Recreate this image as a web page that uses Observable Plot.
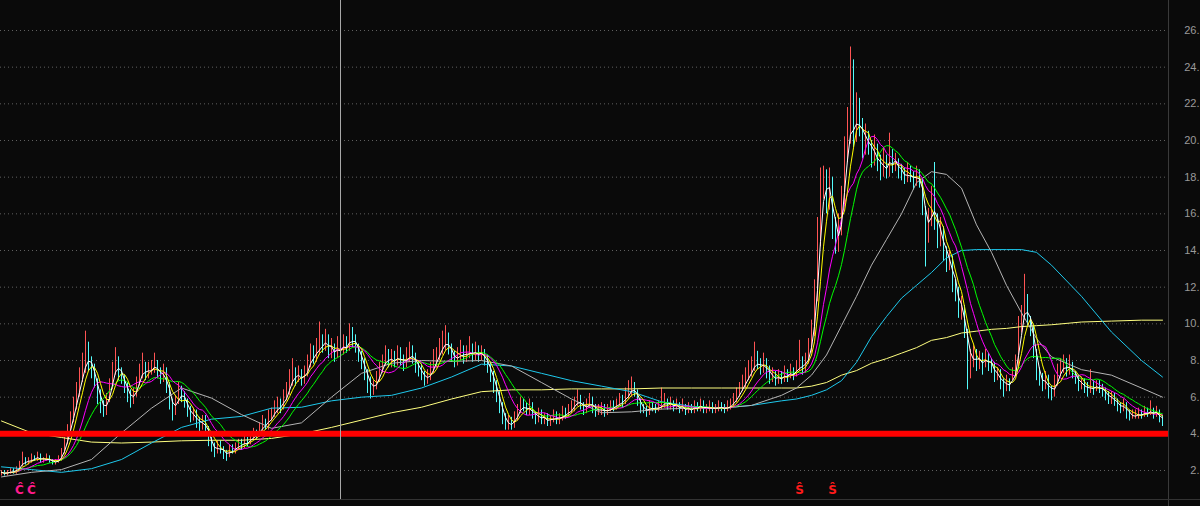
<!DOCTYPE html>
<html>
<head>
<meta charset="utf-8">
<script src="https://cdn.jsdelivr.net/npm/d3@7"></script>
<script src="https://cdn.jsdelivr.net/npm/@observablehq/plot@0.6"></script>
<style>
  html, body { margin: 0; padding: 0; background: #0a0a0a; overflow: hidden; }
  #wrap { position: relative; width: 1200px; height: 506px; }
  #baseline { position: absolute; left: 0; top: 499px; width: 1200px; height: 1px; background: #333; }
</style>
</head>
<body>
<div id="wrap"><div id="baseline"></div></div>
<script>
// ---- candle data (one entry per trading day) ----
const candleClose = [
  1.9,1.8,1.9,2.0,1.9,2.1,2.3,2.6,2.4,2.5,
  2.7,2.6,2.8,2.5,2.6,2.7,2.5,2.4,2.5,2.6,
  3.0,3.5,4.2,4.8,5.5,6.3,7.0,7.6,8.3,8.0,
  7.4,6.8,6.0,5.5,5.2,5.9,6.7,7.4,8.0,7.3,
  7.0,6.5,6.1,5.8,6.2,6.8,7.3,7.6,7.2,7.5,
  7.6,7.8,7.3,7.0,7.4,6.4,5.6,5.2,5.8,6.4,
  6.0,5.7,5.2,4.9,5.1,4.6,4.4,4.8,4.2,3.6,
  3.2,3.0,3.4,3.1,2.9,2.8,3.2,3.0,3.3,3.5,
  3.3,3.6,3.5,3.8,4.0,3.9,4.3,4.6,4.4,4.9,
  5.0,5.3,5.6,5.4,6.0,6.3,6.8,7.4,7.0,7.2,
  6.9,7.3,7.8,8.4,8.1,8.6,9.0,8.7,9.2,8.5,
  8.6,8.3,8.8,8.5,8.9,8.7,9.3,9.1,8.7,8.3,
  7.8,7.2,6.8,6.4,6.6,7.0,7.5,7.9,8.2,7.9,
  8.1,7.9,8.3,8.0,7.8,8.2,8.4,8.1,7.7,7.5,
  7.2,6.9,7.1,7.5,7.8,8.3,8.6,8.9,9.1,8.6,
  8.2,7.9,8.3,8.5,8.1,8.4,8.6,8.2,8.5,8.3,
  8.4,8.0,7.6,7.2,6.6,6.0,5.5,4.8,4.4,4.6,
  4.5,4.9,5.3,5.6,5.4,5.2,5.5,5.0,4.8,5.1,
  4.7,4.9,4.6,4.8,5.0,4.7,4.9,5.1,5.0,5.3,
  5.4,5.7,5.9,5.5,5.3,5.6,5.8,5.4,5.2,5.3,
  5.4,5.1,5.3,5.5,5.4,5.6,5.8,5.7,6.1,6.3,
  6.6,6.2,5.7,5.4,5.3,5.2,5.5,5.4,5.3,5.5,
  5.6,5.8,5.5,5.7,5.4,5.6,5.3,5.5,5.2,5.4,
  5.3,5.5,5.4,5.6,5.3,5.4,5.5,5.3,5.4,5.5,
  5.4,5.3,5.5,5.6,5.8,6.1,6.4,6.7,7.0,7.3,
  7.6,8.0,7.8,7.5,7.9,7.4,7.0,7.2,6.9,7.1,
  7.0,7.3,7.1,7.4,7.2,7.6,7.9,7.5,8.0,8.6,
  9.5,11.5,14.5,17.5,18.0,16.5,17.8,15.0,14.2,15.2,
  16.8,19.5,20.5,21.0,20.2,21.5,20.8,19.6,20.4,19.8,
  18.9,19.5,18.7,18.3,18.9,18.2,19.3,18.6,18.8,18.4,
  18.1,17.9,18.3,18.0,17.7,18.2,17.8,16.2,14.8,15.6,
  17.0,15.8,14.5,15.2,13.8,13.2,13.6,12.0,11.8,10.6,
  10.8,9.5,7.8,8.0,8.4,7.8,8.1,7.7,8.2,7.9,
  7.6,7.0,7.3,6.8,6.5,6.9,6.6,7.2,7.8,9.8,
  10.5,11.2,10.2,9.6,8.4,7.2,7.0,6.6,7.0,6.3,
  6.2,6.8,7.3,7.6,7.8,7.4,7.7,7.3,7.0,6.6,
  6.8,6.5,6.3,6.7,6.4,6.6,6.5,6.3,6.1,5.9,
  6.0,5.7,5.5,5.4,5.6,5.1,4.9,5.0,5.0,5.1,
  5.0,5.2,5.1,5.3,5.0,5.2,4.8,4.6
];
const candleOpen = [
  1.8,1.9,1.8,1.9,2.0,1.9,2.1,2.3,2.6,2.4,
  2.5,2.7,2.6,2.8,2.5,2.6,2.7,2.5,2.4,2.5,
  2.6,3.0,3.5,4.2,4.8,5.5,6.3,7.0,7.6,8.4,
  8.0,7.4,6.8,6.0,5.5,5.2,5.9,6.7,7.4,8.0,
  7.3,7.0,6.5,6.1,5.8,6.2,6.8,7.3,7.6,7.2,
  7.5,7.6,7.8,7.3,7.0,7.4,6.4,5.6,5.2,5.8,
  6.4,6.0,5.7,5.2,4.9,5.1,4.6,4.4,4.8,4.2,
  3.6,3.2,3.0,3.4,3.1,2.9,2.8,3.2,3.0,3.3,
  3.5,3.3,3.6,3.5,3.8,4.0,3.9,4.3,4.6,4.4,
  4.9,5.0,5.3,5.6,5.4,6.0,6.3,6.8,7.4,7.0,
  7.2,6.9,7.3,7.8,8.4,8.1,8.6,9.0,8.7,9.2,
  8.5,8.6,8.3,8.8,8.5,8.9,8.7,9.3,9.1,8.7,
  8.3,7.8,7.2,6.8,6.4,6.6,7.0,7.5,7.9,8.2,
  7.9,8.1,7.9,8.3,8.0,7.8,8.2,8.4,8.1,7.7,
  7.5,7.2,6.9,7.1,7.5,7.8,8.3,8.6,8.9,9.1,
  8.6,8.2,7.9,8.3,8.5,8.1,8.4,8.6,8.2,8.5,
  8.3,8.4,8.0,7.6,7.2,6.6,6.0,5.5,4.8,4.4,
  4.6,4.5,4.9,5.3,5.6,5.4,5.2,5.5,5.0,4.8,
  5.1,4.7,4.9,4.6,4.8,5.0,4.7,4.9,5.1,5.0,
  5.3,5.4,5.7,5.9,5.5,5.3,5.6,5.8,5.4,5.2,
  5.3,5.4,5.1,5.3,5.5,5.4,5.6,5.8,5.7,6.1,
  6.3,6.6,6.2,5.7,5.4,5.3,5.2,5.5,5.4,5.3,
  5.5,5.6,5.8,5.5,5.7,5.4,5.6,5.3,5.5,5.2,
  5.4,5.3,5.5,5.4,5.6,5.3,5.4,5.5,5.3,5.4,
  5.5,5.4,5.3,5.5,5.6,5.8,6.1,6.4,6.7,7.0,
  7.3,7.6,8.0,7.8,7.5,7.9,7.4,7.0,7.2,6.9,
  7.1,7.0,7.3,7.1,7.4,7.2,7.6,7.9,7.5,8.0,
  8.6,9.5,11.5,14.5,17.5,18.0,16.5,17.8,15.0,14.2,
  15.2,16.8,19.5,20.5,21.0,20.2,21.5,20.8,19.6,20.4,
  19.8,18.9,19.5,18.7,18.3,18.9,18.2,19.3,18.6,18.8,
  18.4,18.1,17.9,18.3,18.0,17.7,18.2,17.8,16.2,14.8,
  15.6,17.0,15.8,14.5,15.2,13.8,13.2,13.6,12.0,11.8,
  10.6,10.8,9.5,7.8,8.0,8.4,7.8,8.1,7.7,8.2,
  7.9,7.6,7.0,7.3,6.8,6.5,6.9,6.6,7.2,7.8,
  9.8,10.5,11.2,10.2,9.6,8.4,7.2,7.0,6.6,7.0,
  6.3,6.2,6.8,7.3,7.6,7.8,7.4,7.7,7.3,7.0,
  6.6,6.8,6.5,6.3,6.7,6.4,6.6,6.5,6.3,6.1,
  5.9,6.0,5.7,5.5,5.4,5.6,5.1,4.9,5.0,5.0,
  5.1,5.0,5.2,5.1,5.3,5.0,5.2,4.8
];
const candleHigh = [
  2.0,2.0,2.0,2.1,2.1,2.2,2.5,3.0,2.7,2.7,
  2.9,2.8,3.0,2.9,2.7,2.9,2.8,2.6,2.6,2.8,
  3.2,3.8,4.5,5.2,6.0,6.8,7.6,8.4,9.6,9.0,
  8.2,7.8,7.0,6.4,5.8,6.2,7.0,7.9,8.7,8.2,
  7.6,7.2,6.8,6.4,6.5,7.1,7.8,8.4,7.9,7.9,
  8.0,8.4,8.0,7.6,7.8,7.6,6.8,5.9,6.1,6.8,
  6.6,6.3,5.9,5.5,5.4,5.3,4.9,5.0,5.0,4.4,
  3.8,3.5,3.6,3.6,3.3,3.1,3.4,3.4,3.5,3.7,
  3.7,3.9,3.8,4.1,4.3,4.2,4.6,5.0,4.8,5.3,
  5.4,5.8,6.0,5.9,6.4,6.8,7.5,8.1,7.6,7.7,
  7.5,7.7,8.3,8.9,8.8,9.2,10.1,9.4,9.7,9.4,
  9.2,8.9,9.3,9.1,9.4,9.3,10.0,9.8,9.4,8.9,
  8.5,8.1,7.5,7.1,6.9,7.4,7.9,8.3,8.8,8.6,
  8.6,8.5,8.8,8.7,8.3,8.7,9.0,8.8,8.4,8.0,
  7.8,7.4,7.5,7.9,8.6,8.7,9.2,9.6,9.9,9.5,
  8.9,8.5,8.7,9.1,8.8,8.8,9.3,8.9,9.0,8.8,
  8.8,8.6,8.3,7.9,7.4,6.9,6.3,5.7,5.1,5.0,
  4.9,5.2,5.6,6.0,5.9,5.7,5.9,5.7,5.2,5.4,
  5.3,5.1,5.1,5.0,5.3,5.2,5.1,5.5,5.4,5.6,
  5.8,6.0,6.4,6.1,5.7,5.9,6.2,6.0,5.6,5.6,
  5.7,5.6,5.6,5.8,5.8,5.9,6.2,6.1,6.5,6.9,
  7.1,6.8,6.4,5.9,5.6,5.5,5.8,5.7,5.6,5.8,
  6.5,6.2,5.9,6.0,5.8,5.9,5.7,5.9,5.6,5.7,
  5.6,5.8,5.7,5.9,5.8,5.6,5.8,5.7,5.6,5.8,
  5.7,5.6,5.8,5.9,6.2,6.5,6.8,7.2,7.6,8.0,
  8.2,9.0,8.5,8.1,8.4,8.1,7.7,7.6,7.4,7.5,
  7.4,7.7,7.5,7.8,7.6,8.0,9.1,8.2,8.4,9.2,
  10.2,12.4,15.8,18.5,18.6,18.4,18.5,18.0,15.8,16.0,
  17.5,20.2,21.8,25.1,24.4,22.6,22.3,21.2,20.9,20.5,
  20.0,20.3,19.8,19.2,19.6,19.2,20.4,19.5,19.3,19.0,
  18.7,18.5,18.8,18.6,18.3,18.6,18.4,17.9,16.4,16.3,
  17.5,18.8,16.0,15.8,15.3,14.2,14.0,13.7,12.4,12.0,
  11.5,11.0,9.7,8.6,8.8,8.6,8.5,8.4,8.6,8.4,
  8.1,7.9,7.6,7.5,7.0,7.2,7.0,7.6,8.3,10.4,
  11.0,12.7,11.6,10.4,9.9,8.6,7.6,7.3,7.4,7.2,
  6.6,7.2,7.8,8.1,8.3,8.1,8.3,7.9,7.4,7.2,
  7.1,7.0,6.8,7.5,6.9,6.9,6.9,6.7,6.5,6.3,
  6.3,6.2,5.9,5.7,5.9,5.7,5.3,5.3,5.3,5.4,
  5.3,5.5,5.4,5.8,5.4,5.5,5.3,5.0
];
const candleLow = [
  1.7,1.7,1.7,1.8,1.8,1.8,2.0,2.2,2.3,2.3,
  2.4,2.5,2.5,2.4,2.4,2.5,2.4,2.3,2.3,2.4,
  2.5,2.9,3.4,4.0,4.6,5.3,6.0,6.8,7.3,7.4,
  7.0,6.5,5.6,5.1,4.9,5.0,5.7,6.4,7.2,6.9,
  6.7,6.2,5.7,5.4,5.6,6.0,6.6,7.0,6.9,7.0,
  7.2,7.3,7.0,6.7,6.8,6.2,5.3,4.7,5.0,5.6,
  5.7,5.4,4.9,4.6,4.7,4.3,4.1,4.2,3.9,3.3,
  3.0,2.7,2.9,2.9,2.6,2.5,2.7,2.9,2.9,3.1,
  3.1,3.2,3.3,3.4,3.7,3.7,3.8,4.1,4.2,4.2,
  4.7,4.9,5.1,5.1,5.3,5.8,6.1,6.6,6.6,6.8,
  6.6,6.7,7.1,7.6,7.8,7.9,8.3,8.4,8.5,8.1,
  8.1,7.9,8.1,8.1,8.3,8.4,8.5,8.7,8.4,7.9,
  7.5,6.9,6.2,5.9,6.1,6.4,6.8,7.3,7.7,7.6,
  7.6,7.6,7.7,7.7,7.4,7.6,7.9,7.8,7.3,7.1,
  6.9,6.6,6.7,6.9,7.3,7.6,8.0,8.3,8.5,8.3,
  7.9,7.6,7.7,8.0,7.8,7.9,8.1,7.9,8.0,7.9,
  8.0,7.7,7.3,6.8,6.2,5.7,5.1,4.5,4.2,4.2,
  4.2,4.3,4.7,5.1,5.2,5.0,5.0,4.8,4.5,4.6,
  4.5,4.5,4.4,4.4,4.6,4.5,4.5,4.7,4.8,4.9,
  5.1,5.2,5.5,5.3,5.0,5.1,5.4,5.1,4.9,5.0,
  5.0,4.9,5.0,5.2,5.2,5.3,5.5,5.4,5.6,5.9,
  6.0,6.0,5.5,5.1,5.1,4.9,5.0,5.2,5.1,5.2,
  5.3,5.4,5.3,5.3,5.2,5.3,5.1,5.2,5.0,5.1,
  5.1,5.1,5.2,5.2,5.1,5.1,5.2,5.1,5.1,5.2,
  5.2,5.1,5.2,5.3,5.5,5.7,6.0,6.3,6.5,6.9,
  7.1,7.4,7.5,7.2,7.3,7.0,6.7,6.8,6.6,6.7,
  6.7,6.8,6.8,7.0,6.9,7.1,7.4,7.2,7.3,7.8,
  8.4,9.3,11.2,14.2,16.8,16.0,16.2,14.6,13.8,13.9,
  14.8,16.5,18.8,19.8,19.6,19.9,20.2,19.0,19.2,19.2,
  18.5,18.6,18.3,17.8,18.0,17.9,18.0,18.2,18.3,17.9,
  17.8,17.6,17.7,17.7,17.3,17.5,17.4,15.9,13.1,14.4,
  15.3,15.1,14.1,14.2,13.4,12.8,12.9,11.7,11.2,10.3,
  10.2,9.2,6.4,7.0,7.6,7.4,7.5,7.2,7.6,7.4,
  7.3,6.8,6.9,6.4,6.0,6.3,6.3,6.9,7.1,7.6,
  9.5,10.2,9.9,9.3,8.1,6.9,6.6,6.3,6.4,5.9,
  5.8,6.0,6.6,7.1,7.3,7.1,7.2,7.0,6.7,6.3,
  6.4,6.2,6.0,6.2,6.1,6.3,6.2,6.0,5.8,5.6,
  5.6,5.5,5.2,5.1,5.2,4.8,4.7,4.8,4.8,4.8,
  4.8,4.9,4.9,5.0,4.8,4.9,4.6,4.4
];

// ---- short moving averages (window length in candles) ----
const shortPeriods = [15, 10, 5, 3];
const shortColors = ["#00ff00", "#ff00ff", "#ffff00", "#ffffff"];

// ---- long moving averages at these candle indices ----
const maIndex = [0,10,20,30,40,50,60,70,80,90,
                 100,110,120,130,140,150,160,170,180,190,
                 200,210,220,230,240,250,260,
                 265,270,275,280,285,290,295,300,305,310,315,320,325,330,335,340,345,350,
                 360,370,380,387];
const maGrey = [1.65,1.9,2.05,2.6,4.05,5.4,6.5,5.95,5.05,4.3,
                4.6,6.0,7.3,7.85,8.0,7.95,8.0,7.7,6.8,5.9,
                5.15,5.2,5.35,5.4,5.4,5.55,6.1,
                6.5,7.2,8.3,9.9,11.5,13.2,14.6,16.0,17.7,18.3,18.15,17.4,15.4,13.9,12.1,10.6,9.2,8.2,
                7.5,7.2,6.5,6.0];
const maCyan = [2.2,2.05,1.9,2.1,2.6,3.5,4.35,4.8,4.95,5.4,
                5.45,5.8,6.0,6.1,6.5,7.1,7.8,7.7,7.3,6.9,
                6.6,6.3,5.75,5.5,5.4,5.55,5.8,
                5.9,6.1,6.4,6.9,7.9,9.3,10.4,11.4,12.1,12.8,13.6,14.0,14.05,14.05,14.05,14.05,13.9,13.2,
                11.5,9.55,8.0,7.1];
const maPale = [4.7,4.05,3.8,3.55,3.5,3.55,3.62,3.65,3.65,3.75,
                4.0,4.35,4.75,5.15,5.45,5.9,6.3,6.4,6.4,6.45,
                6.45,6.45,6.5,6.5,6.5,6.5,6.5,
                6.5,6.6,6.8,7.2,7.45,7.85,8.1,8.4,8.7,9.1,9.25,9.5,9.6,9.7,9.75,9.85,9.9,9.95,
                10.1,10.15,10.2,10.2];

// ---- axis ticks, support line, cursor and signal marks ----
const yTicks = [2,4,6,8,10,12,14,16,18,20,22,24,26];
const supportLevel = 4;
const cursorIndex = 113;
const buyMarks = [6, 10];
const sellMarks = [266, 277];

const candles = candleClose.map((c, i) => ({i, open: candleOpen[i], high: candleHigh[i], low: candleLow[i], close: c}));
const up = candles.filter(d => d.close >= d.open);
const down = candles.filter(d => d.close < d.open);
const longMA = arr => maIndex.map((i, j) => ({i, v: arr[j]}));

const UP = "#ff5454", DOWN = "#54fcfc";
const shortMA = (k, color) => Plot.lineY(candles, Plot.windowY({k, anchor: "end", reduce: "mean"}, {x: "i", y: "close", stroke: color, strokeWidth: 1}));

const chart = Plot.plot({
  width: 1200, height: 506,
  marginLeft: 0, marginRight: 32, marginTop: 0, marginBottom: 0,
  x: {domain: [0, 388], range: [1, 1165], axis: null},
  y: {domain: [2, 26], range: [470, 30], axis: null},
  style: {background: "#0a0a0a", color: "#9a9a9a", fontFamily: "'Liberation Sans', sans-serif", fontSize: "11px"},
  marks: [
    Plot.gridY(yTicks, {stroke: "#606060", strokeOpacity: 1, strokeDasharray: "1,3"}),
    Plot.frame({anchor: "right", stroke: "#3a3a3a"}),
    Plot.axisY(yTicks, {anchor: "right", tickSize: 0, tickPadding: 31, textAnchor: "end",
      tickFormat: d => `${d}.`, fill: "#9a9a9a", fontSize: 11, label: null}),
    Plot.ruleX(up, {x: "i", y1: "low", y2: "high", stroke: UP, strokeWidth: 1}),
    Plot.ruleX(down, {x: "i", y1: "low", y2: "high", stroke: DOWN, strokeWidth: 1}),
    Plot.line(longMA(maPale), {x: "i", y: "v", stroke: "#ffff80", strokeWidth: 1}),
    Plot.line(longMA(maCyan), {x: "i", y: "v", stroke: "#1ec8ec", strokeWidth: 1}),
    Plot.line(longMA(maGrey), {x: "i", y: "v", stroke: "#b4b4b4", strokeWidth: 1}),
    ...shortPeriods.map((k, j) => shortMA(k, shortColors[j])),
    Plot.ruleY([supportLevel], {stroke: "#ff0000", strokeWidth: 6}),
    Plot.ruleX([cursorIndex], {stroke: "#a8a8a8", strokeWidth: 1, insetBottom: 7}),
    Plot.text(buyMarks, {x: d => d, frameAnchor: "bottom", dy: -13, text: () => "Ĉ",
      fill: "#ff1a8c", fontWeight: "bold", fontSize: 12, fontFamily: "DejaVu Sans"}),
    Plot.text(sellMarks, {x: d => d, frameAnchor: "bottom", dy: -13, text: () => "Ŝ",
      fill: "#ff1a1a", fontWeight: "bold", fontSize: 12, fontFamily: "DejaVu Sans"})
  ]
});
document.getElementById("wrap").prepend(chart);
</script>
</body>
</html>
